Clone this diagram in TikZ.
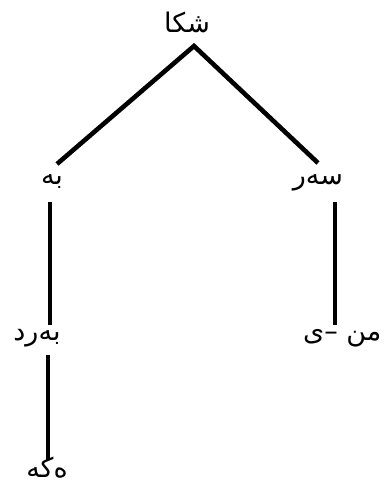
\documentclass[tikz,border=0pt]{standalone}
\usepackage{fontspec}
\TeXXeTstate=1
\newfontfamily\arabicfont[Script=Arabic]{DejaVu Sans}
\tikzset{
  word/.style={inner sep=0pt, font=\arabicfont\fontsize{27}{30}\selectfont},
  edge/.style={line width=4.6pt, black, line cap=butt, line join=miter}
}
\begin{document}
\begin{tikzpicture}[x=1pt,y=-1pt]
\useasboundingbox (0,0) rectangle (387,485);
\node[word] (top)  at (187,22)  {\beginR شکا\endR};
\node[word] (be)   at (52,182)  {\beginR بە\endR};
\node[word] (ser)  at (318,183) {\beginR سەر\endR};
\node[word] (berd) at (37,338)  {\beginR بەرد\endR};
\node[word, anchor=west] (min) at (303,338) {\beginR من –ی\endR};
\node[word] (deke) at (47,468)  {\beginR ەکە\endR};
\draw[edge] ([shift={(5,-18)}]be.center) -- ([shift={(7,24)}]top.center) -- ([shift={(0,-20)}]ser.center);
\draw[edge] ([shift={(-2,20)}]be.center) -- ([shift={(13,-13)}]berd.center);
\draw[edge] ([shift={(17,19)}]ser.center) -- ([shift={(32,-13)}]min.west);
\draw[edge] ([shift={(11,17)}]berd.center) -- ([shift={(1,-8)}]deke.center);
\end{tikzpicture}
\end{document}
